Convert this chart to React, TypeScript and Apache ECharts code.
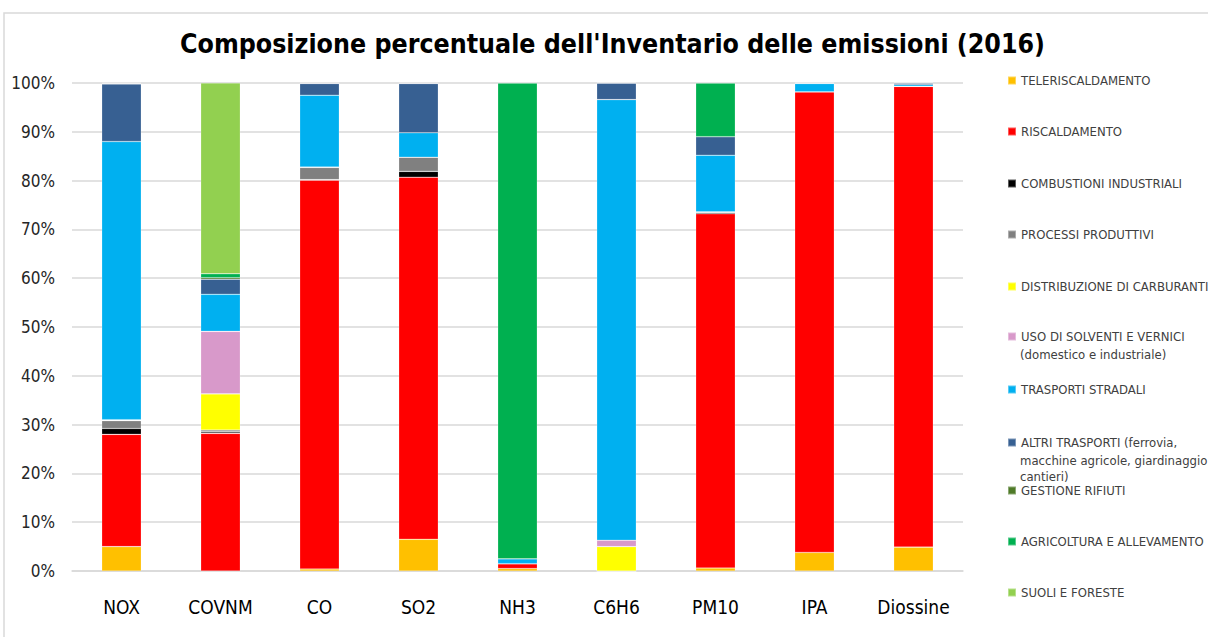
import React, { useEffect, useRef } from "react";
import * as echarts from "echarts";

const categories = ["NOX", "COVNM", "CO", "SO2", "NH3", "C6H6", "PM10", "IPA", "Diossine"];

const teleriscaldamento = [5.0, 0, 0.4, 6.5, 0.5, 0, 0.6, 3.8, 4.9];
const riscaldamento = [23.0, 28.2, 79.7, 74.2, 1.0, 0, 72.6, 94.4, 94.4];
const combustioni = [1.2, 0.3, 0.1, 1.2, 0, 0, 0.2, 0, 0];
const processi = [1.6, 0.4, 2.5, 2.9, 0, 0, 0.2, 0, 0];
const distribuzione = [0.1, 7.4, 0, 0, 0, 5.0, 0, 0, 0];
const solventi = [0.1, 12.8, 0.1, 0, 0, 1.3, 0, 0, 0];
const trasportiStradali = [57.0, 7.6, 14.7, 5.0, 1.0, 90.3, 11.6, 1.7, 0.35];
const altriTrasporti = [11.8, 3.1, 2.4, 10.1, 0, 3.4, 3.8, 0, 0.35];
const rifiuti = [0.1, 0.3, 0, 0, 0, 0, 0, 0.1, 0];
const agricoltura = [0.1, 0.8, 0.1, 0.1, 97.5, 0, 11.0, 0, 0];
const suoli = [0, 39.1, 0, 0, 0, 0, 0, 0, 0];

const seriesNames = [
  "TELERISCALDAMENTO",
  "RISCALDAMENTO",
  "COMBUSTIONI INDUSTRIALI",
  "PROCESSI PRODUTTIVI",
  "DISTRIBUZIONE DI CARBURANTI",
  "USO DI SOLVENTI E VERNICI (domestico e industriale)",
  "TRASPORTI STRADALI",
  "ALTRI TRASPORTI (ferrovia, macchine agricole, giardinaggio, cantieri)",
  "GESTIONE RIFIUTI",
  "AGRICOLTURA E ALLEVAMENTO",
  "SUOLI E FORESTE",
];
const legendLines = [
  ["TELERISCALDAMENTO"],
  ["RISCALDAMENTO"],
  ["COMBUSTIONI INDUSTRIALI"],
  ["PROCESSI PRODUTTIVI"],
  ["DISTRIBUZIONE DI CARBURANTI"],
  ["USO DI SOLVENTI E VERNICI", "(domestico e industriale)"],
  ["TRASPORTI STRADALI"],
  ["ALTRI TRASPORTI (ferrovia,", "macchine agricole, giardinaggio,", "cantieri)"],
  ["GESTIONE RIFIUTI"],
  ["AGRICOLTURA E ALLEVAMENTO"],
  ["SUOLI E FORESTE"],
];
const seriesData = [
  teleriscaldamento, riscaldamento, combustioni, processi, distribuzione, solventi,
  trasportiStradali, altriTrasporti, rifiuti, agricoltura, suoli,
];
const colors = [
  "#FFC000", "#FF0000", "#000000", "#808080", "#FFFF00", "#D899CA",
  "#00B0F0", "#376092", "#4F7A28", "#00B050", "#92D050",
];

const FONT = "'Liberation Sans Narrow', 'DejaVu Sans Condensed', 'Liberation Sans', sans-serif";
const legendY = [82, 133, 185, 236, 288, 338, 391, 444, 492, 543, 594];
const LINE_H = 16;

export default function App() {
  const ref = useRef<HTMLDivElement>(null);
  useEffect(() => {
    if (!ref.current) return;
    const chart = echarts.init(ref.current, null, { renderer: "svg" });

    const legends = seriesNames.map((name, i) => ({
      data: [{ name, icon: "rect" }],
      left: 1007,
      top: legendY[i] - 8,
      padding: 0,
      itemWidth: 8,
      itemHeight: 8,
      formatter: () => legendLines[i][0],
      textStyle: { fontSize: 13, fontFamily: FONT, color: "#404040" },
    }));

    const extraTexts: any[] = [];
    legendLines.forEach((lines, i) => {
      lines.slice(1).forEach((t, k) => {
        extraTexts.push({
          type: "text",
          x: 1020,
          y: legendY[i] + LINE_H * (k + 1),
          style: {
            text: t,
            fontSize: 13,
            fontFamily: FONT,
            fill: "#404040",
            verticalAlign: "middle",
          },
        });
      });
    });

    chart.setOption({
      animation: false,
      backgroundColor: "#ffffff",
      title: {
        text: "Composizione percentuale dell'Inventario delle emissioni (2016)",
        left: 180,
        top: 30,
        padding: 0,
        textStyle: { fontSize: 26.5, fontWeight: "bold", fontFamily: FONT, color: "#000000" },
      },
      grid: { left: 72, right: 245, top: 83, bottom: 66, containLabel: false },
      legend: legends,
      graphic: [
        {
          type: "rect",
          shape: { x: 4, y: 13, width: 1230, height: 650 },
          style: { fill: "none", stroke: "#D9D9D9", lineWidth: 1.5 },
          silent: true,
        },
        ...extraTexts,
      ],
      xAxis: {
        type: "category",
        data: categories,
        axisLine: { lineStyle: { color: "#D9D9D9", width: 1.5 } },
        axisTick: { show: false },
        axisLabel: { interval: 0, fontSize: 19, fontFamily: FONT, color: "#000000", margin: 26 },
      },
      yAxis: {
        type: "value",
        min: 0,
        max: 100,
        interval: 10,
        axisLine: { show: false },
        axisTick: { show: false },
        splitLine: { lineStyle: { color: "#D9D9D9", width: 1.5 } },
        axisLabel: {
          formatter: "{value}%",
          fontSize: 17,
          fontFamily: FONT,
          color: "#262626",
          margin: 17,
        },
      },
      series: seriesNames.map((name, i) => ({
        name,
        type: "bar",
        stack: "total",
        barWidth: "40%",
        data: seriesData[i],
        itemStyle: { color: colors[i], borderColor: "rgba(255,255,255,0.35)", borderWidth: 0.6 },
      })),
    });
    return () => chart.dispose();
  }, []);
  return (
    <div
      ref={ref}
      style={{ position: "fixed", left: 0, top: 0, width: 1208, height: 637, background: "#fff" }}
    />
  );
}
